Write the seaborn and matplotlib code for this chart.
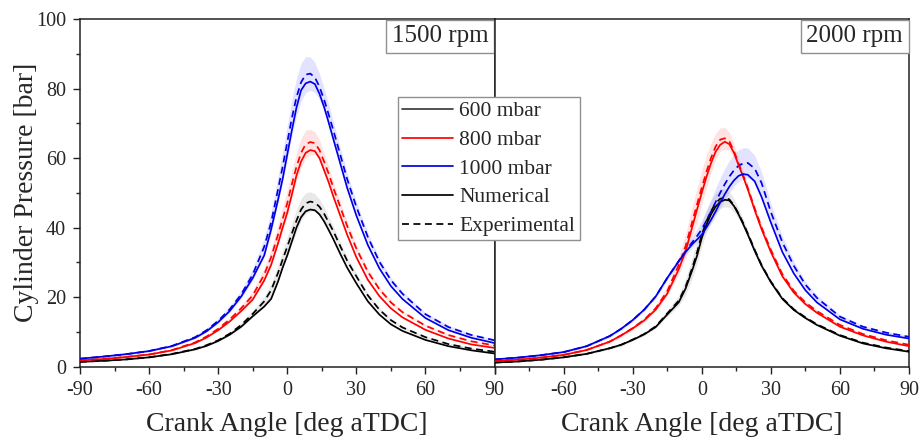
import matplotlib
matplotlib.use("Agg")
import matplotlib.pyplot as plt
from matplotlib.lines import Line2D
from matplotlib.offsetbox import AnchoredText
from matplotlib.ticker import MultipleLocator
import seaborn as sns

# ---------------- data ----------------
ANG = [-90, -80, -70, -60, -50, -40, -35, -30, -25, -20, -15, -10, -7, -4, -2, 0, 2, 4, 6, 8,
       10, 12, 14, 16, 18, 20, 23, 26, 30, 35, 40, 45, 50, 60, 70, 80, 90]

# 1500 rpm
p1500_600_num = [1.4, 1.7, 2.1, 2.7, 3.6, 5.0, 6.0, 7.4, 9.2, 11.5, 14.5, 17.3, 19.5, 24.5, 28.5, 32, 36, 40, 43, 44.7,
                 45.2, 45.0, 43.8, 41.8, 39.3, 36.7, 32.5, 28.5, 24, 18.8, 15, 12.2, 10.3, 7.7, 5.9, 4.7, 3.8]
p1500_600_exp = [1.4, 1.7, 2.1, 2.7, 3.7, 5.1, 6.2, 7.6, 9.5, 12.0, 15.2, 18.8, 22, 27, 30.8, 34.5, 38.3, 42, 45.2, 47,
                 47.5, 47.2, 46, 44, 41.5, 39, 34.7, 30.5, 26, 20.5, 16.4, 13.4, 11.3, 8.5, 6.5, 5.2, 4.3]
p1500_600_band = [0.2, 0.2, 0.2, 0.2, 0.2, 0.3, 0.3, 0.4, 0.5, 0.7, 1.0, 1.4, 1.8, 2.2, 2.5, 2.8, 3.0, 3.2, 3.2, 3.0,
                  2.8, 2.5, 2.2, 1.9, 1.6, 1.4, 1.2, 1.0, 0.9, 0.7, 0.6, 0.5, 0.4, 0.3, 0.3, 0.3, 0.3]

p1500_800_num = [1.8, 2.2, 2.8, 3.5, 4.7, 6.8, 8.4, 10.5, 13, 16, 19.3, 24.8, 29.3, 35.5, 40, 44.3, 49.5, 55, 59, 61.5,
                 62.3, 62.0, 60, 56.5, 53, 49, 43.5, 38, 31.5, 25, 20.3, 16.8, 14.2, 10.6, 8.1, 6.4, 5.4]
p1500_800_exp = [1.8, 2.2, 2.8, 3.5, 4.8, 7.0, 8.7, 10.9, 13.6, 16.8, 20.5, 26.5, 31.5, 38, 42.5, 47, 52.5, 57.5, 61.5, 64,
                 64.6, 64.3, 62.3, 59, 55.5, 51.5, 46, 40.5, 34, 27.3, 22.3, 18.5, 15.7, 11.8, 9.1, 7.3, 6.1]
p1500_800_band = [0.2, 0.2, 0.2, 0.3, 0.3, 0.4, 0.4, 0.5, 0.6, 0.9, 1.3, 1.9, 2.4, 3.0, 3.4, 3.8, 4.0, 4.2, 4.2, 4.0,
                  3.7, 3.3, 2.9, 2.5, 2.1, 1.8, 1.5, 1.3, 1.1, 0.9, 0.7, 0.6, 0.5, 0.4, 0.4, 0.3, 0.3]

p1500_1000_num = [2.3, 2.9, 3.6, 4.5, 5.9, 8.3, 10.2, 12.8, 16, 20.2, 25.5, 32, 39.5, 48, 54, 61, 68, 74.5, 79.5, 81.5,
                  82, 81.3, 78.5, 74.7, 70.2, 65.5, 58.5, 51.5, 43.5, 35, 28.3, 23.2, 19.5, 14, 10.5, 8.3, 6.8]
p1500_1000_exp = [2.3, 2.9, 3.6, 4.5, 6.0, 8.5, 10.5, 13.2, 16.5, 20.8, 26.5, 34.5, 41.5, 51, 57.5, 64.5, 71.5, 77.5, 81.8, 84,
                  84.3, 83.2, 80.5, 76.8, 72.5, 68, 61, 54, 46, 37.3, 30.2, 24.9, 21, 15.1, 11.4, 9.1, 7.6]
p1500_1000_band = [0.3, 0.3, 0.3, 0.3, 0.4, 0.5, 0.6, 0.7, 0.9, 1.2, 1.7, 2.5, 3.1, 3.8, 4.3, 4.8, 5.2, 5.5, 5.5, 5.2,
                   4.8, 4.3, 3.8, 3.3, 2.9, 2.5, 2.1, 1.8, 1.5, 1.2, 1.0, 0.8, 0.7, 0.5, 0.5, 0.4, 0.4]

# 2000 rpm
p2000_600_num = [1.2, 1.5, 2.0, 2.7, 3.7, 5.3, 6.3, 7.7, 9.3, 11.4, 15, 18.5, 22.5, 28, 32, 37, 40.8, 43.8, 46, 47.4,
                 48, 47.8, 46.2, 43.8, 41, 38, 33.3, 29, 24.3, 19.5, 16.3, 14.0, 12.0, 8.9, 6.7, 5.3, 4.3]
p2000_600_exp = [1.2, 1.5, 2.0, 2.7, 3.7, 5.3, 6.3, 7.8, 9.4, 11.6, 15.3, 19, 23, 28.7, 33, 38, 41.8, 44.7, 47, 48.3,
                 48.6, 48.1, 46.4, 44, 41.3, 38.3, 33.6, 29.2, 24.5, 19.7, 16.5, 14.2, 12.2, 9.1, 6.9, 5.5, 4.5]
p2000_600_band = [0.2, 0.2, 0.2, 0.2, 0.3, 0.3, 0.4, 0.4, 0.5, 0.6, 0.9, 1.5, 2.3, 3.0, 3.3, 3.4, 3.3, 3.1, 2.9, 2.8,
                  2.6, 2.3, 1.9, 1.5, 1.2, 1.0, 0.8, 0.7, 0.6, 0.5, 0.4, 0.4, 0.3, 0.3, 0.3, 0.3, 0.3]

p2000_800_num = [1.6, 2.0, 2.6, 3.4, 4.8, 7.2, 9.0, 11, 13.3, 16.4, 21, 28, 33.2, 40.5, 45.3, 50, 54.5, 58.5, 61.8, 63.8,
                 64.7, 64.0, 61.5, 58, 54.6, 51, 45, 39.5, 33, 26, 21.3, 18.0, 15.5, 11.5, 9.0, 7.2, 5.9]
p2000_800_exp = [1.6, 2.0, 2.6, 3.4, 4.8, 7.2, 9.0, 11.1, 13.5, 16.8, 21.7, 29.2, 34.7, 42, 46.8, 51.5, 56, 60, 63.3, 65.3,
                 65.7, 64.8, 62, 58.4, 55, 51.4, 45.5, 40, 33.6, 26.6, 21.8, 18.5, 16.0, 12, 9.4, 7.6, 6.3]
p2000_800_band = [0.2, 0.2, 0.2, 0.3, 0.3, 0.4, 0.5, 0.6, 0.7, 0.9, 1.4, 2.6, 3.5, 4.4, 4.8, 5.0, 4.7, 4.3, 3.8, 3.4,
                  3.1, 2.6, 2.1, 1.7, 1.4, 1.1, 0.9, 0.8, 0.7, 0.6, 0.5, 0.4, 0.4, 0.3, 0.3, 0.3, 0.3]

p2000_1000_num = [2.1, 2.6, 3.3, 4.2, 5.9, 8.8, 10.9, 13.4, 16.4, 20.2, 25.5, 30.3, 33, 35.3, 36.6, 38, 40, 42.2, 44.6, 47.2,
                  49.6, 51.8, 53.6, 54.9, 55.4, 55.2, 53.3, 48.8, 41.5, 33, 26.8, 22.0, 18.5, 13.6, 10.9, 9.2, 8.1]
p2000_1000_exp = [2.1, 2.6, 3.3, 4.2, 5.9, 8.8, 10.9, 13.4, 16.4, 20.2, 25.5, 30.4, 33.3, 35.9, 37.6, 39.5, 42, 44.6, 47.3, 50,
                  52.5, 54.7, 56.5, 57.8, 58.5, 58.6, 57, 52.8, 44.5, 35.8, 29.0, 23.6, 19.8, 14.4, 11.5, 9.8, 8.6]
p2000_1000_band = [0.2, 0.2, 0.2, 0.3, 0.3, 0.4, 0.4, 0.5, 0.5, 0.6, 0.7, 0.9, 1.2, 1.7, 2.1, 2.6, 3.0, 3.5, 4.0, 4.3,
                   4.5, 4.6, 4.6, 4.6, 4.5, 4.3, 3.8, 3.2, 2.5, 1.8, 1.3, 1.0, 0.8, 0.5, 0.4, 0.4, 0.4]

SERIES_LABELS = ["600 mbar", "800 mbar", "1000 mbar"]
PANEL_TITLES = ["1500 rpm", "2000 rpm"]
X_TICKS = [-90, -60, -30, 0, 30, 60, 90]
Y_TICKS = [0, 20, 40, 60, 80, 100]

# ---------------- style ----------------
sns.set_theme(style="ticks")
plt.rcParams["font.family"] = ["Liberation Serif", "DejaVu Serif"]
plt.rcParams["axes.unicode_minus"] = False

COLORS = ["#000000", "#ff0000", "#0000e6"]
BAND_COLORS = ["#9a9a9a", "#ff8080", "#8080ff"]
DASH = (0, (4.0, 2.6))

panels = [
    [(p1500_600_num, p1500_600_exp, p1500_600_band),
     (p1500_800_num, p1500_800_exp, p1500_800_band),
     (p1500_1000_num, p1500_1000_exp, p1500_1000_band)],
    [(p2000_600_num, p2000_600_exp, p2000_600_band),
     (p2000_800_num, p2000_800_exp, p2000_800_band),
     (p2000_1000_num, p2000_1000_exp, p2000_1000_band)],
]

fig = plt.figure(figsize=(9.21, 4.37), dpi=100)
W, H = 921.0, 437.0
left0, right0, right1 = 80.0, 494.5, 909.0
top, bottom = 19.0, 366.7
ax1 = fig.add_axes([left0 / W, 1 - bottom / H, (right0 - left0) / W, (bottom - top) / H])
ax2 = fig.add_axes([right0 / W, 1 - bottom / H, (right1 - right0) / W, (bottom - top) / H], sharey=ax1)
axes = [ax1, ax2]

for ax, pdata, title in zip(axes, panels, PANEL_TITLES):
    for (num, exp, band), c, bc in zip(pdata, COLORS, BAND_COLORS):
        lo = [e - b for e, b in zip(exp, band)]
        hi = [e + b for e, b in zip(exp, band)]
        ax.fill_between(ANG, lo, hi, color=bc, alpha=0.22, linewidth=0, zorder=1)
    for (num, exp, band), c in zip(pdata, COLORS):
        sns.lineplot(x=ANG, y=exp, ax=ax, color=c, linewidth=1.25, linestyle=DASH, zorder=3)
        sns.lineplot(x=ANG, y=num, ax=ax, color=c, linewidth=1.25, zorder=4)

    ax.set_xlim(-90, 90)
    ax.set_ylim(0, 100)
    ax.xaxis.set_major_locator(MultipleLocator(30))
    ax.xaxis.set_minor_locator(MultipleLocator(15))
    ax.yaxis.set_major_locator(MultipleLocator(20))
    ax.yaxis.set_minor_locator(MultipleLocator(10))
    ax.set_xticks(X_TICKS)
    ax.tick_params(axis="both", which="major", direction="out", length=5, width=1.0,
                   labelsize=14.5, color="#222222", pad=5)
    ax.tick_params(axis="both", which="minor", direction="out", length=3, width=1.0, color="#222222")
    for s in ax.spines.values():
        s.set_visible(True)
        s.set_linewidth(1.1)
        s.set_color("#222222")
    ax.set_xlabel("Crank Angle [deg aTDC]", fontsize=20, labelpad=9)
    ax.set_ylabel("")
    at = AnchoredText(title, loc="upper right", prop=dict(size=18), frameon=True,
                      pad=0.22, borderpad=0.02)
    at.patch.set_boxstyle("square,pad=0")
    at.patch.set_edgecolor("#909090")
    at.patch.set_linewidth(1.0)
    ax.add_artist(at)

ax1.set_yticks(Y_TICKS)
ax1.set_ylabel("Cylinder Pressure [bar]", fontsize=20, labelpad=-2)
ax2.tick_params(axis="y", which="both", left=False, labelleft=False)
ax2.set_xticks(X_TICKS)
ax2.set_xticklabels([""] + [str(t) for t in X_TICKS[1:]])

handles = [
    Line2D([], [], color="#3c3c3c", lw=1.25),
    Line2D([], [], color=COLORS[1], lw=1.25),
    Line2D([], [], color=COLORS[2], lw=1.25),
    Line2D([], [], color="black", lw=1.25),
    Line2D([], [], color="black", lw=1.25, linestyle=DASH),
]
labels = SERIES_LABELS + ["Numerical", "Experimental"]
leg = fig.legend(handles, labels, loc="upper left", bbox_to_anchor=(398 / W, 1 - 97 / H),
                 fontsize=15.5, frameon=True, fancybox=False, framealpha=1, edgecolor="#909090",
                 borderpad=0.2, handlelength=2.35, handletextpad=0.3, labelspacing=0.4,
                 borderaxespad=0)
leg.get_frame().set_linewidth(1.0)
leg.set_zorder(10)

fig.savefig("out.png", dpi=100)
